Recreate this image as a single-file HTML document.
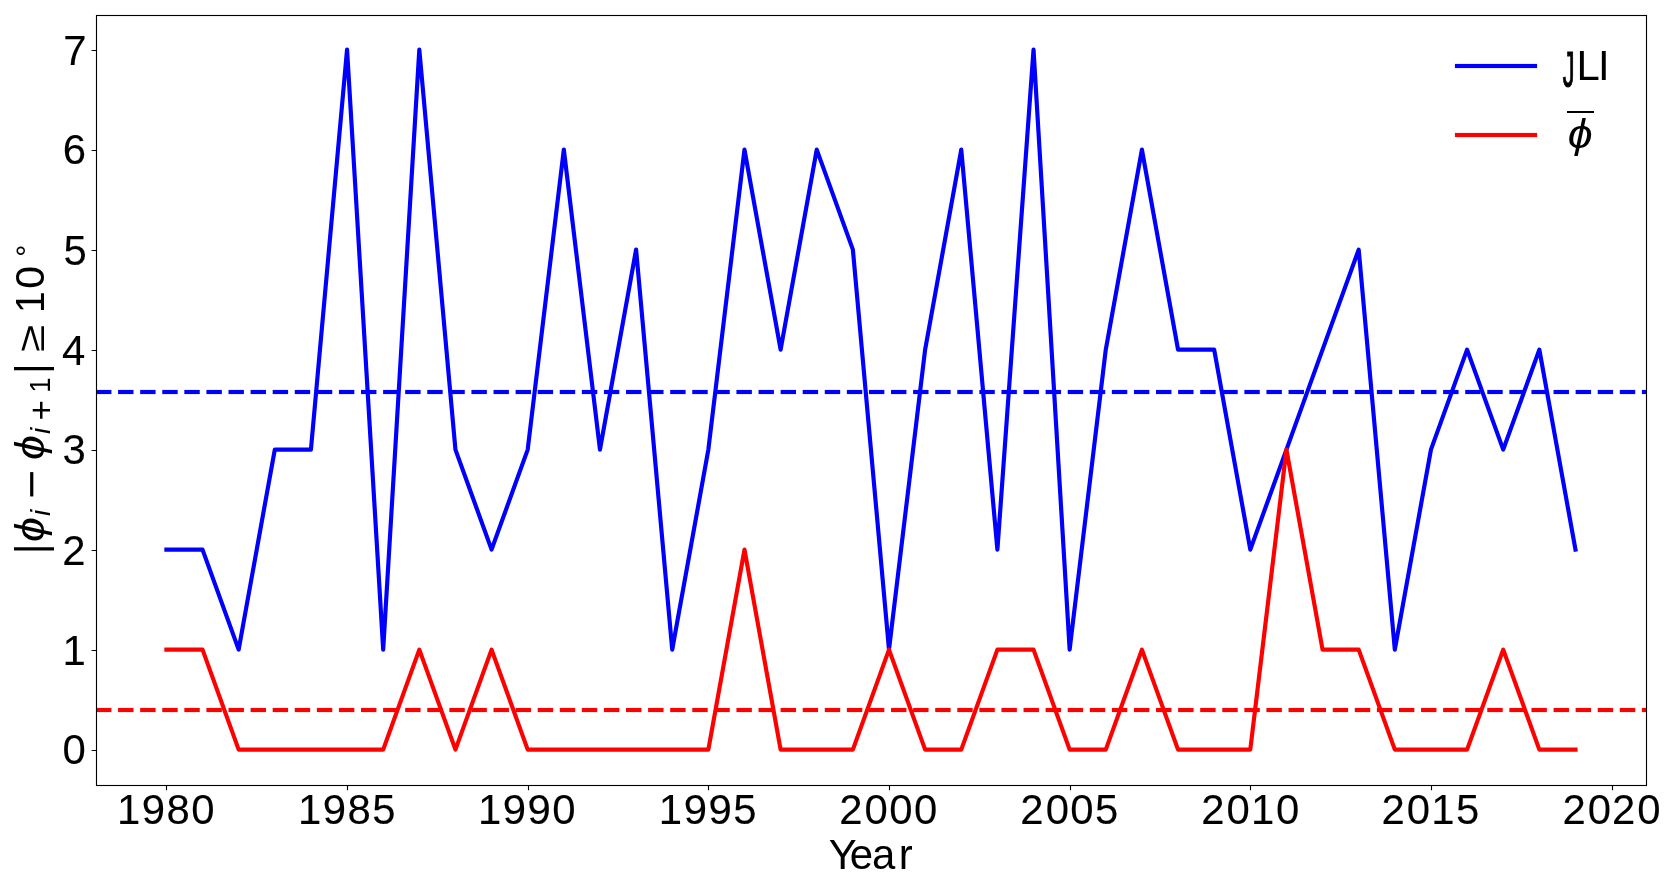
<!DOCTYPE html>
<html><head><meta charset="utf-8"><title>JLI vs phi jumps</title>
<style>html,body{margin:0;padding:0;background:#fff;overflow:hidden}svg{display:block;will-change:transform}text{font-family:"Liberation Sans",sans-serif;fill:#000}.tk{stroke:#000;stroke-width:0.1px}</style>
</head><body>
<svg width="1673" height="884" viewBox="0 0 1673 884">
<rect width="1673" height="884" fill="#fff"/>
<path d="M166.5 785.5V790.361M347.5 785.5V790.361M528.5 785.5V790.361M708.5 785.5V790.361M889.5 785.5V790.361M1070.5 785.5V790.361M1250.5 785.5V790.361M1431.5 785.5V790.361M1612.5 785.5V790.361M96.5 750.5H91.639M96.5 650.5H91.639M96.5 550.5H91.639M96.5 450.5H91.639M96.5 350.5H91.639M96.5 250.5H91.639M96.5 150.5H91.639M96.5 50.5H91.639" stroke="#000" stroke-width="1.111" fill="none"/>
<g fill="none" stroke-width="4.167" stroke-linejoin="round" stroke-linecap="square">
<polyline stroke="#00f" points="166.404,549.6 202.534,549.6 238.664,649.6 274.794,449.6 310.924,449.6 347.054,49.6 383.184,649.6 419.314,49.6 455.444,449.6 491.574,549.6 527.704,449.6 563.834,149.6 599.964,449.6 636.095,249.6 672.225,649.6 708.355,449.6 744.485,149.6 780.615,349.6 816.745,149.6 852.875,249.6 889.005,649.6 925.135,349.6 961.265,149.6 997.395,549.6 1033.525,49.6 1069.655,649.6 1105.785,349.6 1141.916,149.6 1178.046,349.6 1214.176,349.6 1250.306,549.6 1286.436,449.6 1322.566,349.6 1358.696,249.6 1394.826,649.6 1430.956,449.6 1467.086,349.6 1503.216,449.6 1539.346,349.6 1575.476,549.6"/>
<polyline stroke="#f00" points="166.404,649.6 202.534,649.6 238.664,749.6 274.794,749.6 310.924,749.6 347.054,749.6 383.184,749.6 419.314,649.6 455.444,749.6 491.574,649.6 527.704,749.6 563.834,749.6 599.964,749.6 636.095,749.6 672.225,749.6 708.355,749.6 744.485,549.6 780.615,749.6 816.745,749.6 852.875,749.6 889.005,649.6 925.135,749.6 961.265,749.6 997.395,649.6 1033.525,649.6 1069.655,749.6 1105.785,749.6 1141.916,649.6 1178.046,749.6 1214.176,749.6 1250.306,749.6 1286.436,449.6 1322.566,649.6 1358.696,649.6 1394.826,749.6 1430.956,749.6 1467.086,749.6 1503.216,649.6 1539.346,749.6 1575.476,749.6"/>
</g>
<path d="M96 392H1646" stroke="#00f" stroke-width="4.167" stroke-dasharray="15.417 6.667" fill="none"/>
<path d="M96 389.5H1646M96 394.5H1646" stroke="#00f" stroke-opacity="0.085" stroke-width="1" stroke-dasharray="15.417 6.667" fill="none"/>
<path d="M96 710H1646" stroke="#f00" stroke-width="4.167" stroke-dasharray="15.417 6.667" fill="none"/>
<path d="M96 707.5H1646M96 712.5H1646" stroke="#f00" stroke-opacity="0.085" stroke-width="1" stroke-dasharray="15.417 6.667" fill="none"/>
<rect x="96.5" y="15.5" width="1550" height="770" fill="none" stroke="#000" stroke-width="1.111"/>
<text class="tk" x="116.894 141.735 166.6 191.342" y="823.592" font-size="41.9">1980</text>
<text class="tk" x="297.886 322.727 347.592 372.186" y="823.517" font-size="41.9">1985</text>
<text class="tk" x="477.912 502.754 527.496 552.361" y="823.587" font-size="41.9">1990</text>
<text class="tk" x="658.848 683.689 708.431 733.147" y="823.532" font-size="41.9">1995</text>
<text class="tk" x="839.223 864.478 889.22 913.963" y="823.538" font-size="41.9">2000</text>
<text class="tk" x="1020.373 1045.628 1070.371 1094.964" y="823.536" font-size="41.9">2005</text>
<text class="tk" x="1201.347 1226.602 1251.122 1276.086" y="823.586" font-size="41.9">2010</text>
<text class="tk" x="1381.456 1406.711 1431.232 1456.047" y="823.512" font-size="41.9">2015</text>
<text class="tk" x="1562.418 1587.673 1611.903 1637.158" y="823.607" font-size="41.9">2020</text>
<text class="tk" x="62.542" y="763.888" font-size="41.9">0</text>
<text class="tk" x="62.541" y="665.151" font-size="41.9">1</text>
<text class="tk" x="62.196" y="565.083" font-size="41.9">2</text>
<text class="tk" x="62.387" y="464.375" font-size="41.9">3</text>
<text class="tk" x="61.973" y="365.275" font-size="41.9">4</text>
<text class="tk" x="63.393" y="264.69" font-size="41.9">5</text>
<text class="tk" x="62.626" y="164.14" font-size="41.9">6</text>
<text class="tk" x="63.348" y="64.507" font-size="41.9">7</text>
<text x="828.633 849.722 872.033 898.828" y="868.767" font-size="41.9">Year</text>
<g transform="translate(44.753 555.326) rotate(-90)">
<text transform="matrix(0.923 0 0 1 1.378 0.686)" font-size="43.126">|</text>
<text transform="matrix(1.107 0 0 1 13.424 -1.136)" font-size="40.376" font-style="italic">ϕ</text>
<text transform="matrix(0.992 0 0 1 39.257 5.534)" font-size="28.543" font-style="italic">i</text>
<text transform="matrix(1.107 0 0 1 56.609 2.02)" font-size="45.282">−</text>
<text transform="matrix(1.107 0 0 1 95.442 -1.136)" font-size="40.376" font-style="italic">ϕ</text>
<text transform="matrix(0.992 0 0 1 121.275 5.534)" font-size="28.543" font-style="italic">i</text>
<text transform="matrix(1.005 0 0 1 134.812 8.6)" font-size="34.884">+</text>
<text transform="matrix(0.95 0 0 1 162.657 5.534)" font-size="28.845">1</text>
<text transform="matrix(0.923 0 0 1 181.515 0.686)" font-size="43.126">|</text>
<text transform="matrix(1.331 0 0 1 203.345 -0.846)" font-size="37.657">≥</text>
<text transform="matrix(0.95 0 0 1 242.266 -0.846)" font-size="41.207">1</text>
<text transform="matrix(0.987 0 0 1 266.681 -0.701)" font-size="41.544">0</text>
<text transform="matrix(0.991 0 0 1 298.652 -7.345)" font-size="30.327">°</text>
</g>
<g stroke-width="4.167" stroke-linecap="square" fill="none">
<path d="M1457 66H1535" stroke="#00f"/>
<path d="M1457 135H1535" stroke="#f00"/>
<path d="M1454.92 63.5H1537.08M1454.92 68.5H1537.08" stroke="#00f" stroke-width="1" stroke-linecap="butt" stroke-opacity="0.085"/>
<path d="M1454.92 132.5H1537.08M1454.92 137.5H1537.08" stroke="#f00" stroke-width="1" stroke-linecap="butt" stroke-opacity="0.085"/>
</g>
<text y="80.05" font-size="41.9"><tspan x="1562.691" dy="6.696" font-size="50.069" textLength="11.782" lengthAdjust="spacingAndGlyphs" style="stroke:#000;stroke-width:1.2px">J</tspan><tspan x="1576.504 1598.121" dy="-6.696">LI</tspan></text>
<g transform="translate(1567.362 149.459)">
<text transform="matrix(1.107 0 0 1 0.322 -1.635)" font-size="40.376" font-style="italic">ϕ</text>
</g>
<rect x="1567" y="111" width="27" height="2" fill="#000"/>
</svg>
</body></html>
